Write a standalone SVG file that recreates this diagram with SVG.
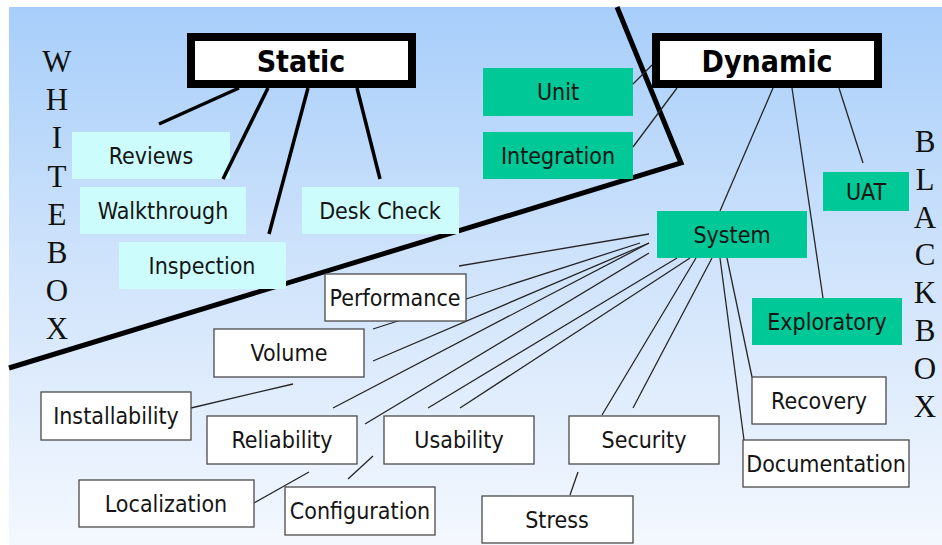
<svg xmlns="http://www.w3.org/2000/svg" width="942" height="545" viewBox="0 0 942 545">
  <defs>
    <linearGradient id="sky" x1="0" y1="0" x2="0" y2="1">
      <stop offset="0" stop-color="#a7cefa"/>
      <stop offset="0.45" stop-color="#cde2fb"/>
      <stop offset="1" stop-color="#f4f8fe"/>
    </linearGradient>
    <style>
      .lbl { font-family: "DejaVu Sans Condensed", "DejaVu Sans", sans-serif; font-stretch: condensed; font-size: 23px; fill: #141414; text-anchor: middle; }
      .head { font-family: "DejaVu Sans Condensed", "DejaVu Sans", sans-serif; font-stretch: condensed; font-weight: bold; font-size: 30px; fill: #000; text-anchor: middle; }
      .side { font-family: "Liberation Serif", "Times New Roman", serif; font-size: 31px; fill: #111; text-anchor: middle; }
      .cat { fill: #fff; stroke: #000; stroke-width: 8; }
      .cyan { fill: #ccfcfc; }
      .green { fill: #00c897; }
      .plain { fill: #fff; stroke: #4a4a4a; stroke-width: 1.3; }
      .thick { stroke: #000; stroke-width: 3.5; fill: none; }
      .thin { stroke: #262626; stroke-width: 1.3; fill: none; }
    </style>
  </defs>

  <!-- backdrop -->
  <rect x="0" y="0" width="942" height="545" fill="#fff"/>
  <rect x="9" y="7" width="933" height="538" fill="url(#sky)"/>

  <!-- white box / black box boundary -->
  <path d="M 9 368 L 681 163 L 617 7" fill="none" stroke="#000" stroke-width="5" stroke-linejoin="miter"/>

  <!-- side captions -->
  <g id="whitebox-caption" class="side">
    <text x="57" y="72">W</text>
    <text x="57" y="110">H</text>
    <text x="57" y="148">I</text>
    <text x="57" y="187">T</text>
    <text x="57" y="225">E</text>
    <text x="57" y="263">B</text>
    <text x="57" y="301">O</text>
    <text x="57" y="339">X</text>
  </g>
  <g id="blackbox-caption" class="side">
    <text x="925" y="152">B</text>
    <text x="925" y="190">L</text>
    <text x="925" y="228">A</text>
    <text x="925" y="265">C</text>
    <text x="925" y="303">K</text>
    <text x="925" y="341">B</text>
    <text x="925" y="379">O</text>
    <text x="925" y="417">X</text>
  </g>

  <!-- categories -->
  <g id="static">
    <rect class="cat" x="191" y="37" width="221" height="47"/>
    <text class="head" x="301" y="72">Static</text>
  </g>
  <g id="dynamic">
    <rect class="cat" x="656" y="37" width="222" height="47"/>
    <text class="head" x="767" y="72">Dynamic</text>
  </g>

  <!-- static techniques -->
  <g id="reviews">
    <rect class="cyan" x="72" y="132" width="158" height="47"/>
    <text class="lbl" x="151" y="164">Reviews</text>
  </g>
  <g id="walkthrough">
    <rect class="cyan" x="80" y="187" width="166" height="47"/>
    <text class="lbl" x="163" y="219">Walkthrough</text>
  </g>
  <g id="desk-check">
    <rect class="cyan" x="302" y="187" width="157" height="47"/>
    <text class="lbl" x="380" y="219">Desk Check</text>
  </g>
  <g id="inspection">
    <rect class="cyan" x="119" y="242" width="167" height="47"/>
    <text class="lbl" x="202" y="274">Inspection</text>
  </g>

  <!-- dynamic levels -->
  <g id="unit">
    <rect class="green" x="483" y="68" width="150" height="48"/>
    <text class="lbl" x="558" y="100">Unit</text>
  </g>
  <g id="integration">
    <rect class="green" x="483" y="132" width="150" height="47"/>
    <text class="lbl" x="558" y="164">Integration</text>
  </g>
  <g id="system">
    <rect class="green" x="657" y="211" width="150" height="47"/>
    <text class="lbl" x="732" y="243">System</text>
  </g>
  <g id="uat">
    <rect class="green" x="823" y="172" width="86" height="39"/>
    <text class="lbl" x="866" y="200">UAT</text>
  </g>
  <g id="exploratory">
    <rect class="green" x="752" y="298" width="150" height="47"/>
    <text class="lbl" x="827" y="330">Exploratory</text>
  </g>

  <!-- connectors (the white test-type boxes below sit on top of them) -->
  <g id="connectors">
    <!-- Static -->
    <line class="thick" x1="239" y1="88" x2="159" y2="124"/>
    <line class="thick" x1="268" y1="88" x2="223" y2="179"/>
    <line class="thick" x1="308" y1="88" x2="269" y2="234"/>
    <line class="thick" x1="357" y1="88" x2="380" y2="179"/>
    <!-- Dynamic -->
    <line class="thin" x1="652" y1="65" x2="633" y2="84"/>
    <line class="thin" x1="677" y1="88" x2="633" y2="147"/>
    <line class="thin" x1="773" y1="88" x2="720" y2="211"/>
    <line class="thin" x1="792" y1="88" x2="823" y2="298"/>
    <line class="thin" x1="839" y1="88" x2="863" y2="163"/>
    <!-- System -->
    <line class="thin" x1="649" y1="234" x2="459" y2="266"/>
    <line class="thin" x1="640" y1="243" x2="373" y2="329"/>
    <line class="thin" x1="649" y1="243" x2="373" y2="361"/>
    <line class="thin" x1="649" y1="243" x2="333" y2="408"/>
    <line class="thin" x1="649" y1="253" x2="365" y2="424"/>
    <line class="thin" x1="677" y1="258" x2="428" y2="408"/>
    <line class="thin" x1="690" y1="258" x2="460" y2="408"/>
    <line class="thin" x1="696" y1="258" x2="602" y2="415"/>
    <line class="thin" x1="712" y1="258" x2="633" y2="408"/>
    <line class="thin" x1="720" y1="258" x2="744" y2="440"/>
    <line class="thin" x1="727" y1="258" x2="752" y2="377"/>
    <!-- short ties -->
    <line class="thin" x1="191" y1="408" x2="293" y2="384"/>
    <line class="thin" x1="254" y1="503" x2="309" y2="472"/>
    <line class="thin" x1="348" y1="479" x2="373" y2="456"/>
    <line class="thin" x1="570" y1="495" x2="578" y2="472"/>
  </g>

  <!-- system test types -->
  <g id="performance">
    <rect class="plain" x="325" y="274" width="141" height="47"/>
    <text class="lbl" x="395" y="306">Performance</text>
  </g>
  <g id="volume">
    <rect class="plain" x="214" y="329" width="150" height="48"/>
    <text class="lbl" x="289" y="361">Volume</text>
  </g>
  <g id="installability">
    <rect class="plain" x="41" y="392" width="150" height="48"/>
    <text class="lbl" x="116" y="424">Installability</text>
  </g>
  <g id="reliability">
    <rect class="plain" x="207" y="416" width="150" height="48"/>
    <text class="lbl" x="282" y="448">Reliability</text>
  </g>
  <g id="usability">
    <rect class="plain" x="384" y="416" width="150" height="48"/>
    <text class="lbl" x="459" y="448">Usability</text>
  </g>
  <g id="security">
    <rect class="plain" x="569" y="416" width="150" height="48"/>
    <text class="lbl" x="644" y="448">Security</text>
  </g>
  <g id="localization">
    <rect class="plain" x="79" y="480" width="175" height="47"/>
    <text class="lbl" x="166" y="512">Localization</text>
  </g>
  <g id="configuration">
    <rect class="plain" x="285" y="487" width="150" height="48"/>
    <text class="lbl" x="360" y="519">Configuration</text>
  </g>
  <g id="stress">
    <rect class="plain" x="482" y="496" width="151" height="47"/>
    <text class="lbl" x="557" y="528">Stress</text>
  </g>
  <g id="recovery">
    <rect class="plain" x="752" y="377" width="134" height="47"/>
    <text class="lbl" x="819" y="409">Recovery</text>
  </g>
  <g id="documentation">
    <rect class="plain" x="743" y="440" width="166" height="47"/>
    <text class="lbl" x="826" y="472">Documentation</text>
  </g>
</svg>
